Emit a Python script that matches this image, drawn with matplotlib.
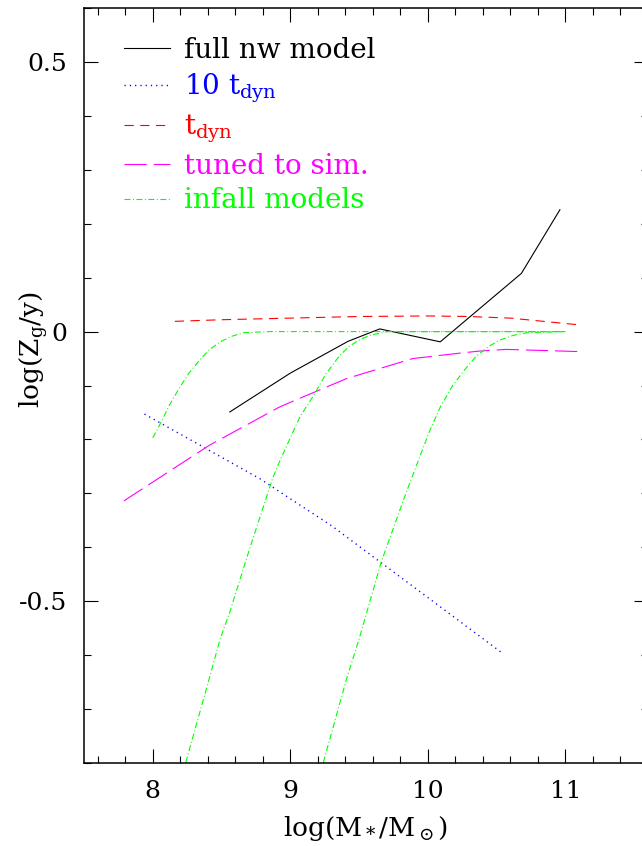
import numpy as np
import matplotlib
matplotlib.use('Agg')
import matplotlib.pyplot as plt
from matplotlib.ticker import MultipleLocator

plt.rcParams['font.family'] = 'DejaVu Serif'
plt.rcParams['mathtext.fontset'] = 'dejavuserif'
plt.rcParams['lines.scale_dashes'] = False

# full nw model
full_x = [8.56, 9.0, 9.42, 9.65, 10.09, 10.68, 10.96]
full_y = [-0.149, -0.077, -0.018, 0.005, -0.019, 0.108, 0.226]

# 10 t_dyn
slow_x = [7.94, 8.78, 9.0, 9.30, 10.54]
slow_y = [-0.153, -0.273, -0.310, -0.360, -0.596]

# t_dyn
fast_x = [8.16, 8.5, 9.0, 9.5, 10.0, 10.3, 10.6, 10.8, 11.08]
fast_y = [0.019, 0.022, 0.025, 0.028, 0.029, 0.028, 0.025, 0.020, 0.013]

# tuned to simulations
sim_x = [7.79, 8.41, 8.92, 9.02, 9.41, 9.89, 10.23, 10.38, 10.57, 11.09]
sim_y = [-0.314, -0.211, -0.140, -0.129, -0.087, -0.050, -0.040, -0.036, -0.033, -0.037]

# infall models
inf1_x = [8.0, 8.03, 8.06, 8.12, 8.19, 8.26, 8.34, 8.41, 8.49, 8.57, 8.66, 8.75, 8.83, 11.0]
inf1_y = [-0.197, -0.183, -0.168, -0.137, -0.106, -0.078, -0.053, -0.034, -0.019, -0.009, -0.002, -0.001, 0.0, 0.0]
inf2_x = [8.24, 8.41, 8.49, 8.56, 8.70, 8.87, 8.92, 9.0, 9.07, 9.17, 9.26, 9.36, 9.43, 9.51, 9.58, 9.65, 9.70, 11.0]
inf2_y = [-0.799, -0.644, -0.570, -0.520, -0.406, -0.273, -0.242, -0.197, -0.158, -0.118, -0.078, -0.044, -0.027, -0.014, -0.007, -0.003, 0.0, 0.0]
inf3_x = [9.24, 9.41, 9.50, 9.66, 9.83, 9.88, 10.01, 10.09, 10.18, 10.27, 10.35, 10.44, 10.52, 10.62, 10.72, 11.0]
inf3_y = [-0.799, -0.643, -0.570, -0.428, -0.307, -0.273, -0.186, -0.140, -0.100, -0.070, -0.046, -0.028, -0.016, -0.007, -0.002, 0.0]

fig = plt.figure(figsize=(6.42, 8.46), dpi=100)
ax = fig.add_axes([0.1308, 0.0981, 0.8785, 0.8924])

lw = 0.8
ax.plot(full_x, full_y, color='black', lw=lw, label='full nw model')
ax.plot(slow_x, slow_y, color='blue', lw=1.0, dashes=(0.9, 2.9), label=r'10 $\mathrm{t_{dyn}}$')
ax.plot(fast_x, fast_y, color='red', lw=lw, dashes=(6.7, 4.6), label=r'$\mathrm{t_{dyn}}$')
ax.plot(sim_x, sim_y, color='magenta', lw=lw, dashes=(16, 5), label='tuned to sim.')
dd = (4.3, 1.8, 0.7, 1.8)
ax.plot(inf1_x, inf1_y, color='lime', lw=lw, dashes=dd, label='infall models')
ax.plot(inf2_x, inf2_y, color='lime', lw=lw, dashes=dd)
ax.plot(inf3_x, inf3_y, color='lime', lw=lw, dashes=dd)

ax.set_xlim(7.5, 11.6)
ax.set_ylim(-0.8, 0.6)
ax.xaxis.set_major_locator(MultipleLocator(1))
ax.xaxis.set_minor_locator(MultipleLocator(0.2))
ax.yaxis.set_major_locator(MultipleLocator(0.5))
ax.yaxis.set_minor_locator(MultipleLocator(0.1))
ax.tick_params(which='both', direction='in', top=True, right=True, width=0.8, labelsize=18)
ax.tick_params(which='major', length=10, pad=12)
ax.tick_params(which='minor', length=5)
ax.set_yticks([0.5, 0, -0.5])
ax.set_yticklabels(['0.5', '0', '-0.5'])
for s in ax.spines.values():
    s.set_linewidth(1.1)

ax.set_xlabel(r'log(M$_*$/M$_\odot$)', fontsize=19, labelpad=8)
ax.set_ylabel(r'log(Z$_\mathrm{g}$/y)', fontsize=19)
ax.yaxis.set_label_coords(-0.06, 0.547)

ax.legend(loc='upper left', bbox_to_anchor=(0.071, 0.962), frameon=False,
          fontsize=20, labelcolor='linecolor', handlelength=1.65,
          handletextpad=0.5, labelspacing=0.28, borderpad=0, borderaxespad=0)

fig.savefig('out.png', dpi=100)
